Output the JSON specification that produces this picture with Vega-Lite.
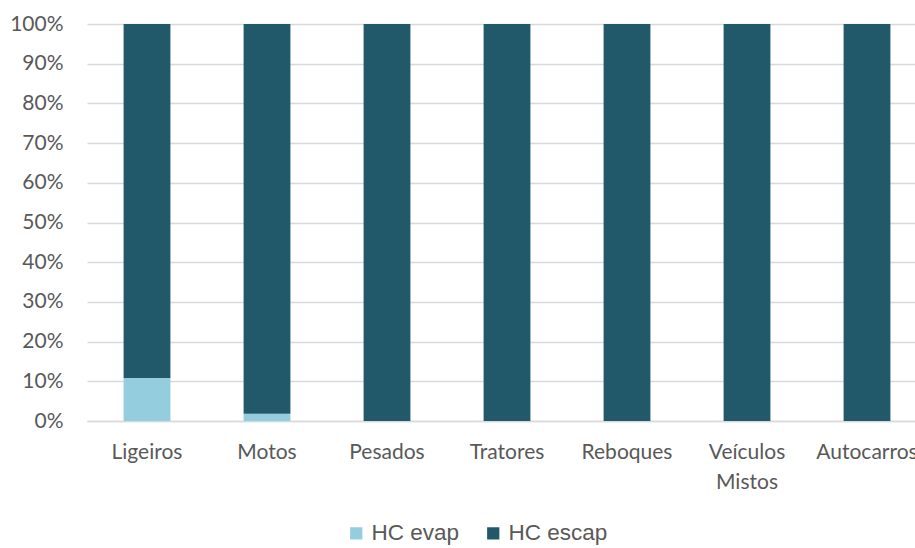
{
  "$schema": "https://vega.github.io/schema/vega-lite/v6.json",
  "autosize": "none",
  "width": 840,
  "height": 397,
  "padding": {"left": 87, "top": 24, "right": 0, "bottom": 127},
  "background": "white",
  "data": {
    "values": [
      {"veiculo": "Ligeiros", "serie": "HC evap", "valor": 10.8},
      {"veiculo": "Ligeiros", "serie": "HC escap", "valor": 89.2},
      {"veiculo": "Motos", "serie": "HC evap", "valor": 1.8},
      {"veiculo": "Motos", "serie": "HC escap", "valor": 98.2},
      {"veiculo": "Pesados", "serie": "HC evap", "valor": 0},
      {"veiculo": "Pesados", "serie": "HC escap", "valor": 100},
      {"veiculo": "Tratores", "serie": "HC evap", "valor": 0},
      {"veiculo": "Tratores", "serie": "HC escap", "valor": 100},
      {"veiculo": "Reboques", "serie": "HC evap", "valor": 0},
      {"veiculo": "Reboques", "serie": "HC escap", "valor": 100},
      {"veiculo": "Veículos Mistos", "serie": "HC evap", "valor": 0},
      {"veiculo": "Veículos Mistos", "serie": "HC escap", "valor": 100},
      {"veiculo": "Autocarros", "serie": "HC evap", "valor": 0},
      {"veiculo": "Autocarros", "serie": "HC escap", "valor": 100}
    ]
  },
  "config": {
    "view": {"stroke": null},
    "axis": {"labelFont": "Lato", "labelColor": "#595959", "labelFontSize": 21}
  },
  "mark": {"type": "bar"},
  "encoding": {
    "x": {
      "field": "veiculo",
      "type": "nominal",
      "sort": null,
      "scale": {"paddingInner": 0.61, "paddingOuter": 0.305},
      "axis": {
        "title": null,
        "labelAngle": 0,
        "ticks": false,
        "domainColor": "#d9d9d9",
        "domainWidth": 1.5,
        "labelPadding": 20,
        "labelLineHeight": 30,
        "labelExpr": "datum.label == 'Veículos Mistos' ? ['Veículos', 'Mistos'] : datum.label"
      }
    },
    "y": {
      "field": "valor",
      "type": "quantitative",
      "stack": "normalize",
      "scale": {"domain": [0, 1], "nice": false},
      "axis": {
        "title": null,
        "format": ".0%",
        "values": [0, 0.1, 0.2, 0.3, 0.4, 0.5, 0.6, 0.7, 0.8, 0.9, 1],
        "domain": false,
        "ticks": false,
        "gridColor": "#d9d9d9",
        "gridWidth": 1.5,
        "labelPadding": 24
      }
    },
    "color": {
      "field": "serie",
      "type": "nominal",
      "scale": {"domain": ["HC evap", "HC escap"], "range": ["#94cddd", "#22596a"]},
      "legend": {
        "title": null,
        "orient": "none",
        "direction": "horizontal",
        "legendX": 258,
        "legendY": 498,
        "symbolType": "square",
        "symbolSize": 150,
        "symbolStrokeWidth": 0,
        "labelFont": "Liberation Sans",
        "labelFontSize": 22.5,
        "labelColor": "#595959",
        "columnPadding": 22,
        "labelOffset": 4
      }
    },
    "order": {"field": "serie", "sort": "descending"}
  }
}
